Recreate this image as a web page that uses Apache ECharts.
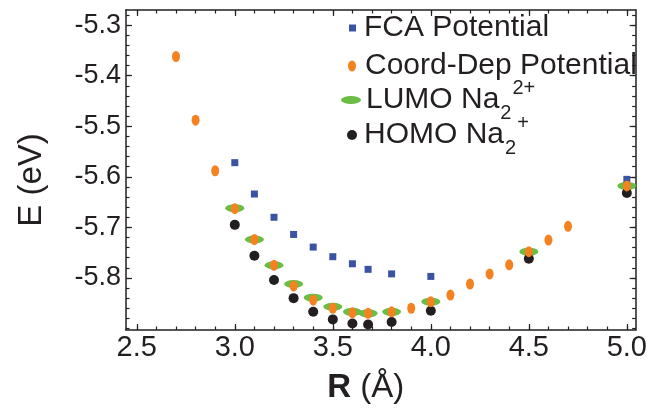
<!DOCTYPE html>
<html><head><meta charset="utf-8">
<script src="https://cdn.jsdelivr.net/npm/echarts@6/dist/echarts.min.js"></script>
<style>html,body{margin:0;padding:0;background:#fff}#c{width:650px;height:411px}</style>
</head><body><div id="c"></div>
<script>
// ---- tick values ----
const xTickLabels = [2.5, 3.0, 3.5, 4.0, 4.5, 5.0];
const xMinorTicks = [2.5, 2.6, 2.7, 2.8, 2.9, 3.0, 3.1, 3.2, 3.3, 3.4, 3.5, 3.6, 3.7, 3.8, 3.9, 4.0, 4.1, 4.2, 4.3, 4.4, 4.5, 4.6, 4.7, 4.8, 4.9, 5.0];
const yTickLabels = [-5.8, -5.7, -5.6, -5.5, -5.4, -5.3];
const yMinorTicks = [-5.9, -5.88, -5.86, -5.84, -5.82, -5.8, -5.78, -5.76, -5.74, -5.72, -5.7, -5.68, -5.66, -5.64, -5.62, -5.6, -5.58, -5.56, -5.54, -5.52, -5.5, -5.48, -5.46, -5.44, -5.42, -5.4, -5.38, -5.36, -5.34, -5.32, -5.3, -5.28];

// ---- series data ----
const fcaR = [3.0, 3.1, 3.2, 3.3, 3.4, 3.5, 3.6, 3.68, 3.8, 4.0, 5.0];
const fcaE = [-5.572, -5.634, -5.680, -5.714, -5.739, -5.758, -5.772, -5.783, -5.792, -5.797, -5.605];

const coordR = [2.7, 2.8, 2.9, 3.0, 3.1, 3.2, 3.3, 3.4, 3.5, 3.6, 3.68, 3.8, 3.9, 4.0, 4.1, 4.2, 4.3, 4.4, 4.5, 4.6, 4.7, 5.0];
const coordE = [-5.362, -5.488, -5.588, -5.663, -5.724, -5.775, -5.816, -5.844, -5.860, -5.869, -5.870, -5.867, -5.860, -5.847, -5.834, -5.812, -5.792, -5.774, -5.748, -5.725, -5.698, -5.618];

const lumoR = [3.0, 3.1, 3.2, 3.3, 3.4, 3.5, 3.6, 3.68, 3.8, 4.0, 4.5, 5.0];
const lumoE = [-5.662, -5.724, -5.775, -5.812, -5.839, -5.857, -5.867, -5.870, -5.867, -5.847, -5.748, -5.618];

const homoR = [3.0, 3.1, 3.2, 3.3, 3.4, 3.5, 3.6, 3.68, 3.8, 4.0, 4.5, 5.0];
const homoE = [-5.695, -5.756, -5.804, -5.840, -5.867, -5.882, -5.890, -5.892, -5.887, -5.865, -5.762, -5.632];

const names = ['FCA Potential', 'Coord-Dep Potential', 'LUMO Na2 2+', 'HOMO Na2 +'];

const zip = (a, b) => a.map((v, i) => [v, b[i]]);

const FONT = '"Liberation Sans", Arial, Helvetica, sans-serif';
const INK = '#231f20';
const XMIN = 2.445, XMAX = 5.045, YMIN = -5.903, YMAX = -5.270;

function xAxisDef(pos, ticks, len, showLine, labels) {
  return {
    type: 'value', position: pos, min: XMIN, max: XMAX,
    axisLine: { show: showLine, onZero: false, lineStyle: { color: INK, width: 1.5 } },
    axisTick: { show: true, inside: true, length: len, customValues: ticks, lineStyle: { color: INK, width: 1.2 } },
    axisLabel: labels ? { show: true, customValues: labels, formatter: v => v.toFixed(1), fontFamily: FONT, fontSize: 29, color: INK, margin: 3 } : { show: false },
    splitLine: { show: false }
  };
}
function yAxisDef(pos, ticks, len, showLine, labels) {
  return {
    type: 'value', position: pos, min: YMIN, max: YMAX,
    axisLine: { show: showLine, onZero: false, lineStyle: { color: INK, width: 1.5 } },
    axisTick: { show: true, inside: true, length: len, customValues: ticks, lineStyle: { color: INK, width: 1.2 } },
    axisLabel: labels ? { show: true, customValues: labels, formatter: v => v.toFixed(1), fontFamily: FONT, fontSize: 27, color: INK, margin: 5, padding: [6, 0, 0, 0] } : { show: false },
    splitLine: { show: false }
  };
}

const xA0 = xAxisDef('bottom', xTickLabels, 6, true, xTickLabels);
xA0.name = '{b|R} (Å)';
xA0.nameLocation = 'middle';
xA0.nameGap = 41;
xA0.nameTextStyle = { fontFamily: FONT, fontSize: 33, color: INK, padding: [0, 30, 0, 0], rich: { b: { fontFamily: FONT, fontSize: 33, fontWeight: 'bold', color: INK } } };

const yA0 = yAxisDef('left', yTickLabels, 6, true, yTickLabels);
yA0.name = 'E (eV)';
yA0.nameLocation = 'middle';
yA0.nameGap = 78;
yA0.nameTextStyle = { fontFamily: FONT, fontSize: 33, color: INK, padding: [0, 20, 0, 0] };

const legendText = { fontFamily: FONT, fontSize: 30, color: INK,
  rich: {
    sub: { fontFamily: FONT, fontSize: 20, color: INK, padding: [26, 0, 0, 1] },
    sup: { fontFamily: FONT, fontSize: 20, color: INK, padding: [0, 0, 24, 1] }
  } };
function fmt(n) {
  if (n === names[2]) return 'LUMO Na{sub|2}{sup|2+}';
  if (n === names[3]) return 'HOMO Na{sub|2}{sup|+}';
  return n;
}
function leg(name, left, top, w, h, icon, padLeft) {
  return { data: [name], left: left, top: top, padding: 0, itemWidth: w, itemHeight: h, icon: icon,
    selectedMode: false, formatter: fmt,
    textStyle: Object.assign({}, legendText, { padding: [0, 0, 0, padLeft] }) };
}

const option = {
  animation: false,
  backgroundColor: '#fff',
  grid: { left: 126, right: 4, top: 10, bottom: 81, containLabel: false },
  xAxis: [
    xA0,
    xAxisDef('bottom', xMinorTicks, 3.5, false, null),
    xAxisDef('top', xTickLabels, 6, true, null),
    xAxisDef('top', xMinorTicks, 3.5, false, null)
  ],
  yAxis: [
    yA0,
    yAxisDef('left', yMinorTicks, 3.5, false, null),
    yAxisDef('right', yTickLabels, 6, true, null),
    yAxisDef('right', yMinorTicks, 3.5, false, null)
  ],
  legend: [
    leg(names[0], 349, 13, 7, 7, 'rect', 3),
    leg(names[1], 348, 51, 8, 11, 'path://M4,0 A4,5.5 0 1,1 4,11 A4,5.5 0 1,1 4,0 Z', 4),
    leg(names[2], 341, 78, 20, 8, 'path://M0,4 A10,4 0 1,1 20,4 A10,4 0 1,1 0,4 Z', 0),
    leg(names[3], 347, 113, 10, 10, 'circle', 2)
  ],
  series: [
    { type: 'scatter', name: names[2], data: zip(lumoR, lumoE), symbol: 'circle', symbolSize: [19, 8], itemStyle: { color: '#6abd45', opacity: 1 }, z: 2 },
    { type: 'scatter', name: names[3], data: zip(homoR, homoE), symbol: 'circle', symbolSize: 10, itemStyle: { color: '#231f20', opacity: 1 }, z: 3 },
    { type: 'scatter', name: names[0], data: zip(fcaR, fcaE), symbol: 'rect', symbolSize: 7, itemStyle: { color: '#3a54a4', opacity: 1 }, z: 4 },
    { type: 'scatter', name: names[1], data: zip(coordR, coordE), symbol: 'circle', symbolSize: [8, 11], itemStyle: { color: '#f58220', opacity: 1 }, z: 5 }
  ]
};
const chart = echarts.init(document.getElementById('c'), null, { renderer: 'canvas' });
chart.setOption(option);
</script></body></html>
